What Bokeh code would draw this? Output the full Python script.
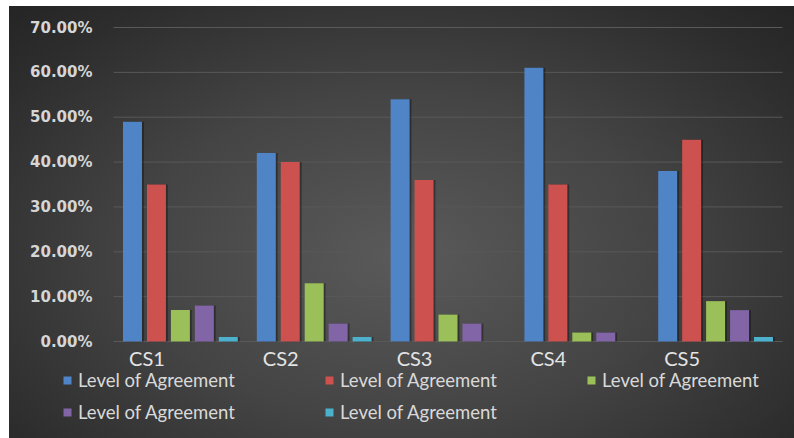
from bokeh.plotting import figure
from bokeh.models import ColumnDataSource, Range1d, Legend, LegendItem
from bokeh.core.properties import value
from bokeh.transform import dodge
from bokeh.embed import file_html
from bokeh.resources import INLINE

# Survey results per case study
cases = ["CS1", "CS2", "CS3", "CS4", "CS5"]
series_labels = ["Level of Agreement"] * 5
agree_1 = [0.49, 0.42, 0.54, 0.61, 0.38]
agree_2 = [0.35, 0.40, 0.36, 0.35, 0.45]
agree_3 = [0.07, 0.13, 0.06, 0.02, 0.09]
agree_4 = [0.08, 0.04, 0.04, 0.02, 0.07]
agree_5 = [0.01, 0.01, 0.00, 0.00, 0.01]
y_ticks = [0.0, 0.1, 0.2, 0.3, 0.4, 0.5, 0.6, 0.7]
y_tick_labels = [f"{t * 100:.2f}%" for t in y_ticks]

colors = ["#4f84c6", "#cd514e", "#9cc059", "#8165a6", "#4bb1cd"]

# canvas geometry (px): the whole canvas is the drawing frame, the bar
# area sits inside it with room for tick labels and the legend
W, H = 785, 432
AREA_L, AREA_R, AREA_T, AREA_B = 104, 773, 21, 335
Y_MAX = 0.7
n = len(cases)
x_per_px = n / (AREA_R - AREA_L)
y_per_px = Y_MAX / (AREA_B - AREA_T)
x_range = Range1d(-AREA_L * x_per_px, n + (W - AREA_R) * x_per_px)
y_range = Range1d(-(H - AREA_B) * y_per_px, Y_MAX + AREA_T * y_per_px)

# each case occupies one unit on the x scale, centred at i + 0.5
pos = [i + 0.5 for i in range(n)]
src = ColumnDataSource(dict(case=cases, pos=pos, s1=agree_1, s2=agree_2,
                            s3=agree_3, s4=agree_4, s5=agree_5))

p = figure(x_range=x_range, y_range=y_range, width=W, height=H,
           output_backend="svg", toolbar_location=None,
           min_border=0, background_fill_alpha=0, border_fill_alpha=0,
           outline_line_color=None)
p.axis.visible = False
p.grid.visible = False
p.margin = (6, 0, 0, 9)
p.styles = {"background": "radial-gradient(ellipse 75% 85% at 50% 58%, #5a5a5a 0%, "
                          "#444444 45%, #2d2d2d 80%, #222222 100%)"}

# horizontal gridlines across the bar area
p.segment(x0=[0] * len(y_ticks), x1=[n] * len(y_ticks), y0=y_ticks, y1=y_ticks,
          line_color="#595959", line_width=1)

# y tick labels
p.text(x=[0] * len(y_ticks), y=y_ticks, text=y_tick_labels, x_offset=-21,
       text_align="right", text_baseline="middle",
       text_font=value("DejaVu Sans"), text_font_style="bold",
       text_font_size="15px", text_color="#d6d6d6")

slot = 0.179
bar_w = 0.142
items = []
for i, (col, c) in enumerate(zip(["s1", "s2", "s3", "s4", "s5"], colors)):
    off = (i - 2) * slot
    # soft drop shadow
    p.vbar(x=dodge("pos", off + 0.014), top=col, width=bar_w,
           source=src, fill_color="black", fill_alpha=0.35, line_color=None)
    r = p.vbar(x=dodge("pos", off), top=col, width=bar_w,
               source=src, fill_color=c, line_color=None)
    items.append(LegendItem(label=series_labels[i], renderers=[r]))

# category labels, set left of each group's centre
p.text(x=[x - 0.25 for x in pos], y=[0] * n, text=cases, y_offset=16,
       text_align="center", text_baseline="alphabetic",
       text_font=value("Lato"), text_font_size="20px", text_color="#e4e4e4")

legend = Legend(items=items, orientation="horizontal", ncols=3,
                location=(53, 15), padding=0, margin=0,
                border_line_alpha=0, background_fill_alpha=0,
                glyph_width=10, glyph_height=10, label_standoff=6,
                label_width=236, label_height=22, spacing=10,
                label_text_font="Lato", label_text_font_size="18.5px",
                label_text_color="#d9d9d9")
p.add_layout(legend, "center")

open("out.html", "w").write(file_html(p, INLINE))
